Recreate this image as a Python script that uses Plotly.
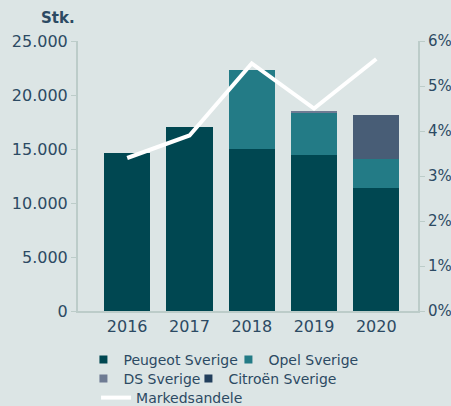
import plotly.graph_objects as go

years = ["2016", "2017", "2018", "2019", "2020"]
peugeot = [14650, 17000, 15000, 14470, 11420]
opel = [0, 0, 7300, 3880, 2700]
ds = [0, 0, 0, 180, 0]
citroen = [0, 0, 0, 0, 4050]
markedsandele = [0.034, 0.039, 0.055, 0.045, 0.056]

y_ticks = [0, 5000, 10000, 15000, 20000, 25000]
y2_ticks = [0, 0.01, 0.02, 0.03, 0.04, 0.05, 0.06]

c_peugeot = "#004751"
c_opel = "#237B86"
c_ds = "#6E7B93"
c_citroen = "#485D76"
c_legend_citroen = "#223F5C"
bg = "#DCE5E5"
txt = "#2C4A63"
axc = "#BCCCC9"
FONT = "DejaVu Sans"

fig = go.Figure()
series = [("Peugeot Sverige", peugeot, c_peugeot, c_peugeot, "legend", 100),
          ("Opel Sverige", opel, c_opel, c_opel, "legend", None),
          ("DS Sverige", ds, c_ds, c_ds, "legend2", 60),
          ("Citroën Sverige", citroen, c_citroen, c_legend_citroen, "legend2", None)]
for name, vals, col, lcol, lg, lw in series:
    fig.add_trace(go.Bar(x=years, y=vals, name=name, marker_color=col,
                         marker_line_width=0, width=0.74, showlegend=False))
for name, vals, col, lcol, lg, lw in series:
    fig.add_trace(go.Scatter(x=[None], y=[None], mode="markers", name=name,
                             legend=lg, legendwidth=lw,
                             marker=dict(symbol="square", size=8, color=lcol)))

fig.add_trace(go.Scatter(x=years, y=markedsandele, name="Markedsandele",
                         mode="lines", line=dict(color="white", width=4),
                         yaxis="y2", legend="legend3"))

leg_common = dict(orientation="h", xref="container", yref="container",
                  xanchor="left", yanchor="middle",
                  font=dict(size=14, color=txt), bgcolor="rgba(0,0,0,0)",
                  traceorder="normal", itemwidth=30)

fig.update_layout(
    width=451, height=406,
    barmode="stack",
    paper_bgcolor=bg, plot_bgcolor=bg,
    margin=dict(l=78, r=33, t=41, b=95, pad=0, autoexpand=False),
    separators=",.",
    font=dict(family=FONT, color=txt, size=16),
    xaxis=dict(range=[-0.79, 4.67], showline=True, linecolor=axc, linewidth=2,
               ticks="", showgrid=False, tickfont=dict(size=16), automargin=False),
    yaxis=dict(range=[0, 25000], tickvals=y_ticks, tickformat=",d",
               showline=True, linecolor=axc, linewidth=2, ticks="outside",
               ticklen=5, tickcolor=axc, showgrid=False, zeroline=False,
               tickfont=dict(size=16), automargin=False),
    yaxis2=dict(range=[0, 0.06], tickvals=y2_ticks, tickformat=".0%",
                overlaying="y", side="right", showline=True, linecolor=axc,
                linewidth=2, ticks="outside", ticklen=5, tickcolor=axc,
                showgrid=False, zeroline=False, tickfont=dict(size=15),
                automargin=False),
    legend=dict(x=0.185, y=0.1133, **leg_common),
    legend2=dict(x=0.185, y=0.0665, **leg_common),
    legend3=dict(x=0.213, y=0.0197, **leg_common),
    annotations=[dict(text="<b>Stk.</b>", xref="paper", yref="paper",
                      x=-0.06, y=1.045, xanchor="center", yanchor="bottom",
                      showarrow=False, font=dict(size=15, color=txt))],
)

fig.write_html("out.html",
               config={"displayModeBar": False},
               post_script="document.body.style.margin='0';"
                           "document.body.style.overflow='hidden';")
